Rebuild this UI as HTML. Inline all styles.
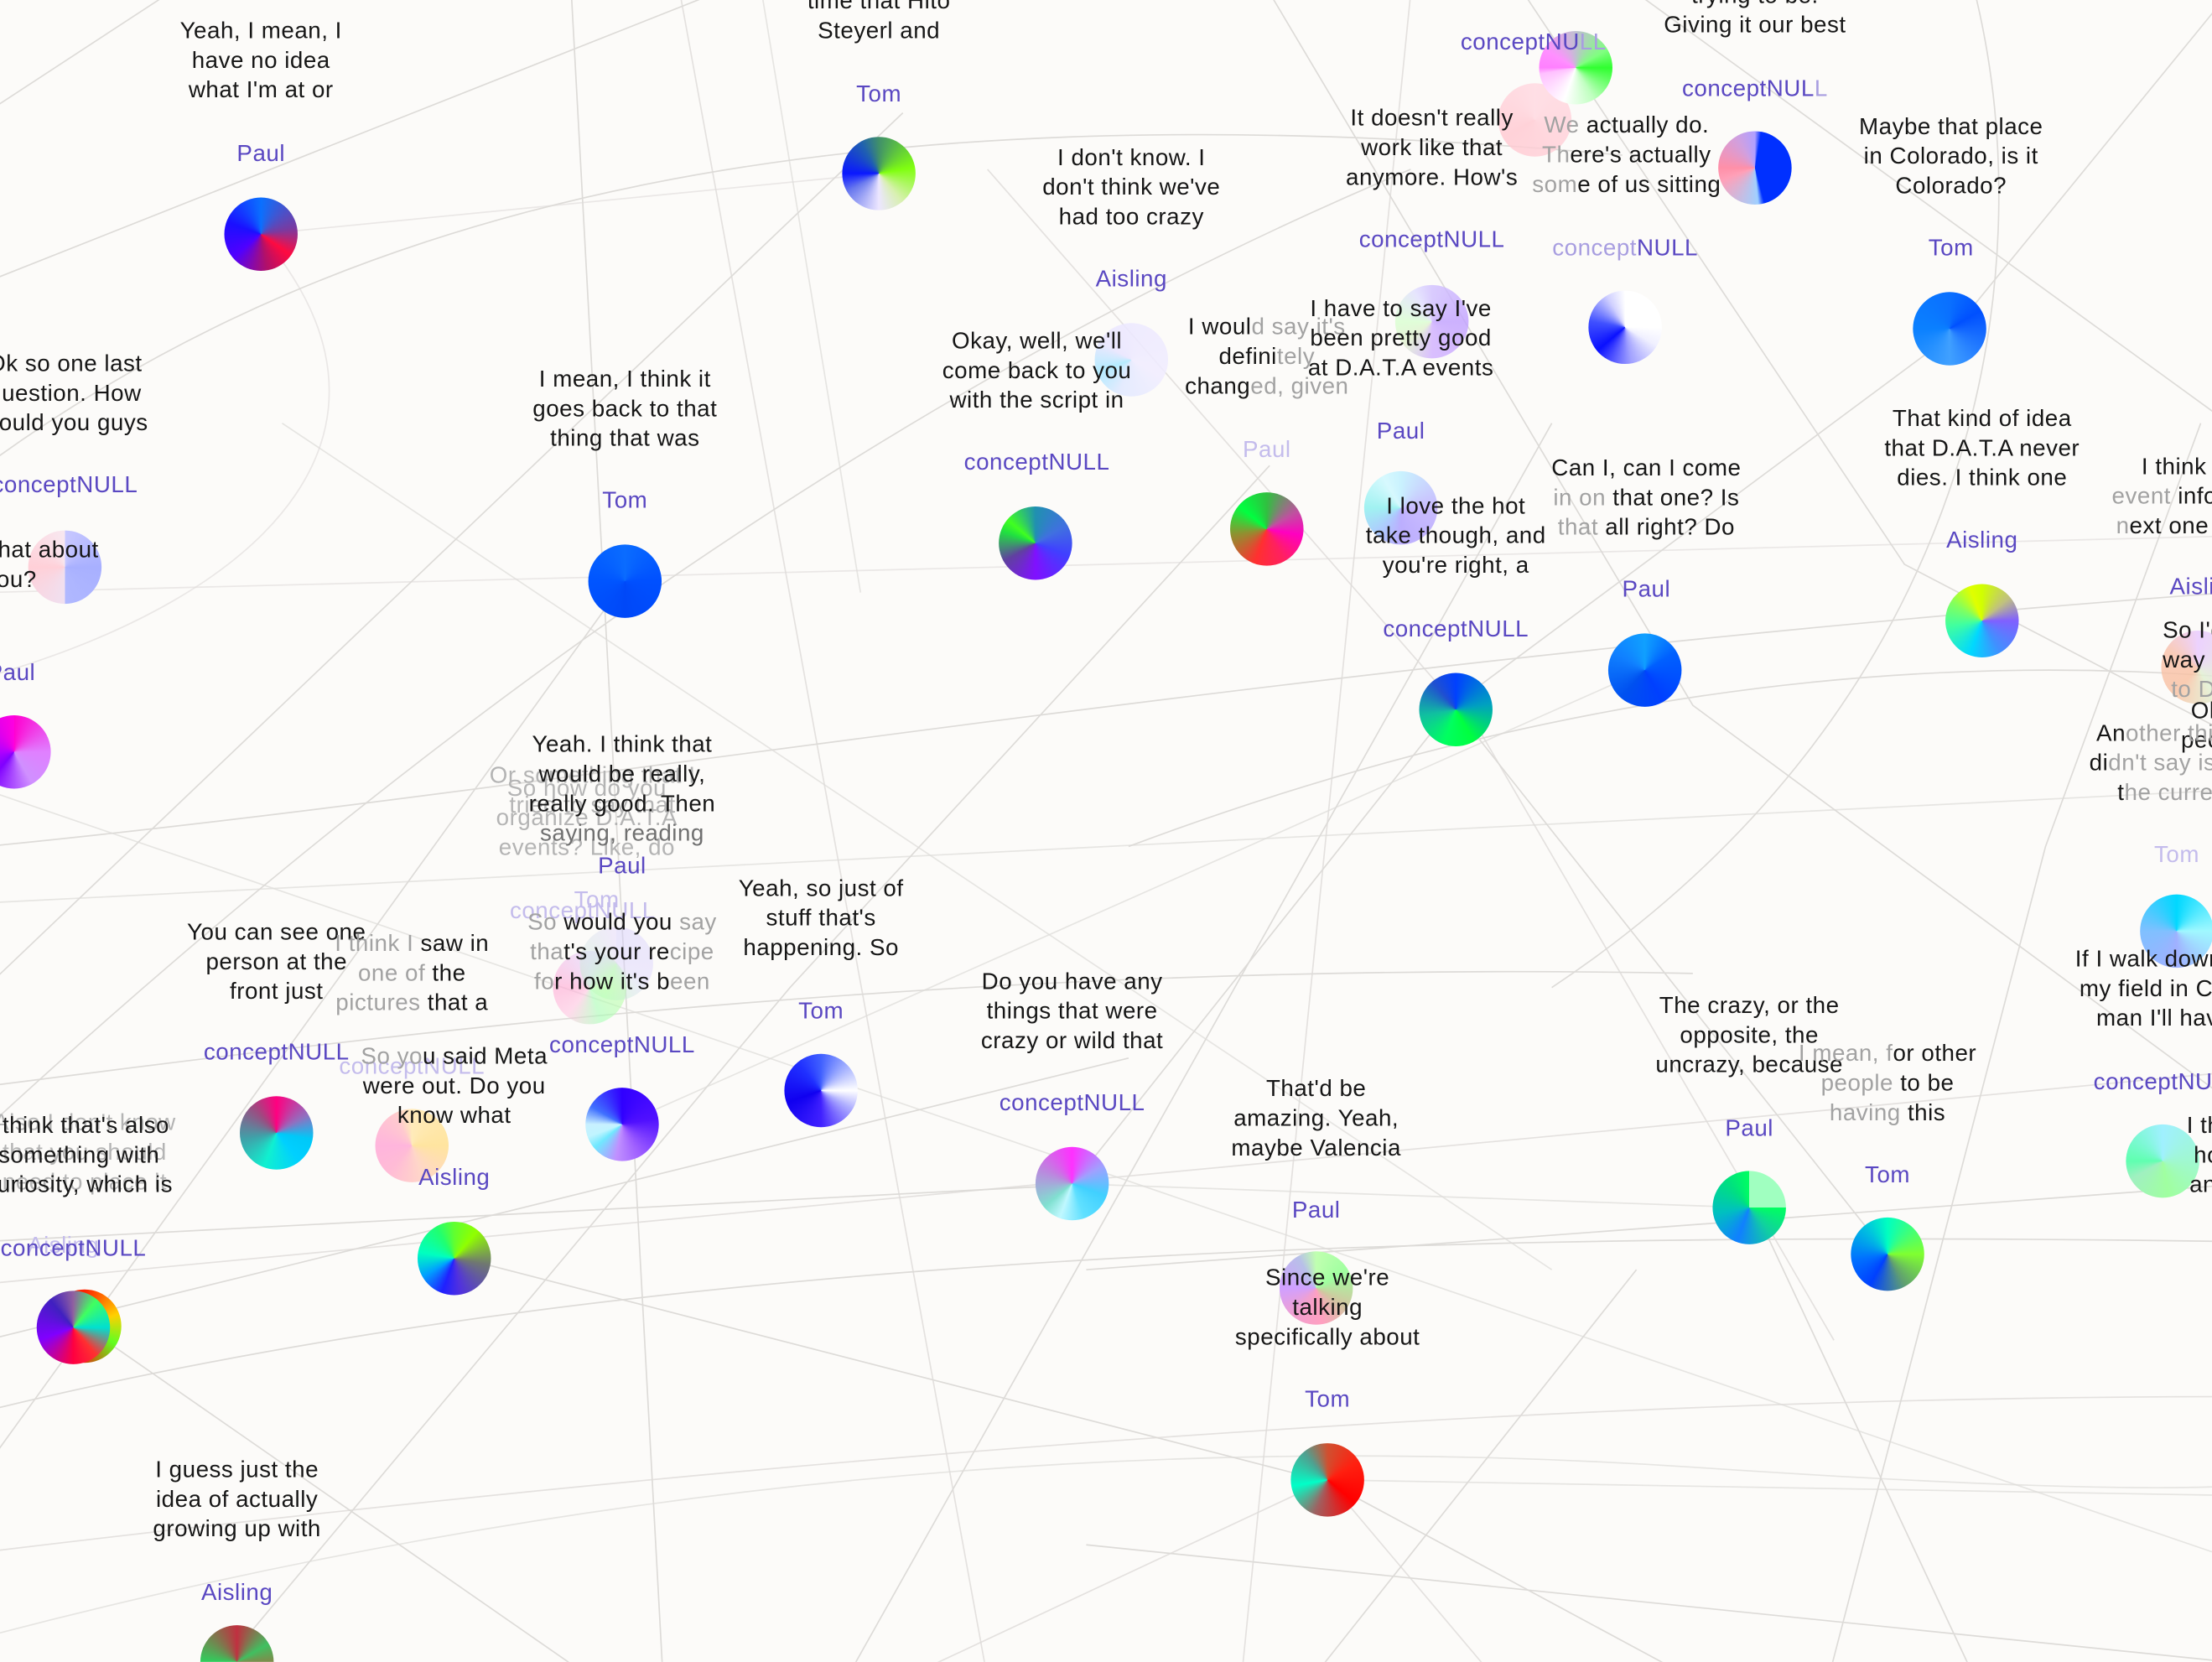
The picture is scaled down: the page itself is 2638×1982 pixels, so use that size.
<!DOCTYPE html>
<html><head><meta charset="utf-8">
<style>
html,body{margin:0;padding:0;width:2638px;height:1982px;overflow:hidden;background:#fcfbf9;}
#s{position:absolute;left:0;top:0;width:1568px;height:1178px;transform:scale(1.68240);transform-origin:0 0;overflow:hidden;}
svg{position:absolute;left:0;top:0;}
.t,.l{position:absolute;width:240px;margin-left:-120px;margin-top:2px;text-align:center;white-space:nowrap;font-family:"Liberation Sans",sans-serif;font-size:16.5px;line-height:21px;letter-spacing:.3px;color:#161616;}
.l{color:#5a48c2;}
.fl{color:#c4bcec;}
.g{color:#a2a2a2;}
.f{color:#b4b4b4;}
.r{position:absolute;margin-top:2px;white-space:nowrap;font-family:"Liberation Sans",sans-serif;font-size:16.5px;line-height:21px;letter-spacing:.3px;color:#161616;}
.c{position:absolute;width:52px;height:52px;margin:-26px 0 0 -26px;border-radius:50%;}
</style></head><body>
<div id="s">
<svg width="1568" height="1178" viewBox="0 0 1568 1178" fill="none" stroke="#dddbd8" stroke-width="1">
<path d="M-10,200 L520,-10"/>
<path d="M-10,330 C250,140 600,60 1150,110"/>
<path d="M405,-5 L470,1190"/>
<path d="M482,-5 L700,1190" opacity=".8"/>
<path d="M-10,700 L640,80"/>
<path d="M-10,800 Q500,330 1000,120"/>
<path d="M-10,600 C400,560 900,470 1580,420"/>
<path d="M-10,640 L1580,560" opacity=".7"/>
<path d="M-10,910 L1580,760" opacity=".8"/>
<path d="M-10,1000 C400,900 900,870 1580,880"/>
<path d="M-10,1100 Q900,990 1580,990" opacity=".8"/>
<path d="M150,1190 L560,700 L900,330"/>
<path d="M-10,1040 L443,412"/>
<path d="M200,300 L1100,900" opacity=".7"/>
<path d="M-10,560 L1568,1100" opacity=".7"/>
<path d="M600,1190 L1100,300"/>
<path d="M930,1190 L1160,900"/>
<path d="M1250,870 L1400,1190"/>
<path d="M1296,1190 L1450,600 L1560,300"/>
<path d="M900,-5 L1200,500 L1580,780"/>
<path d="M1080,-5 L1350,400 L1580,520"/>
<path d="M1580,-5 L1380,240 L1030,500 L760,840"/>
<path d="M700,120 L1050,520 L1300,950" opacity=".8"/>
<path d="M1160,-5 L1580,300"/>
<path d="M1580,480 Q1200,450 800,600"/>
<path d="M770,1095 L1580,1178"/>
<path d="M770,900 L1580,840"/>
<path d="M941,1049 L1580,1060" opacity=".7"/>
<path d="M-10,880 L760,840"/>
<path d="M320,890 L940,1050 L1200,1190"/>
<path d="M-10,950 L800,750"/>
<path d="M540,-5 L610,420" opacity=".7"/>
<path d="M1000,-5 Q950,500 880,1190" opacity=".8"/>
<path d="M1400,-5 C1450,200 1400,500 1100,700"/>
<path d="M-10,420 L1580,380" opacity=".6"/>
<path d="M-10,770 C300,730 700,680 1200,690"/>
<path d="M-10,480 C200,420 300,300 185,166" opacity=".6"/>
<path d="M185,166 L623,123" opacity=".6"/>
<path d="M-10,1160 Q600,1000 1200,1040 T1580,1010" opacity=".7"/>
<path d="M60,940 L420,1190"/>
<path d="M441,797 L1166,475" opacity=".7"/>
<path d="M760,839 L1240,856" opacity=".7"/>
<path d="M1032,503 L1338,889"/>
<path d="M120,-5 L-10,80"/>
<path d="M640,1190 L941,1049 L1060,1190" opacity=".8"/>
</svg>

<!-- circles -->
<div class="c" style="left:185px;top:166px;background:conic-gradient(#0a70ff,#7a3aa0 80deg,#ff0a40 125deg,#b0106a 170deg,#5000ff 230deg,#1a10ff 290deg,#0a70ff)"></div>
<div class="c" style="left:623px;top:123px;background:conic-gradient(#40906a,#80ff10 80deg,#d8f0b0 140deg,#ece6ff 180deg,#6878ee 240deg,#0a18ff 270deg,#2060b0 330deg,#40906a)"></div>
<div class="c" style="left:802px;top:255px;opacity:.85;background:conic-gradient(#ece8ff,#f0ecff 120deg,#e0e8ff 200deg,#a8e8ff 250deg,#e8e4ff 300deg,#ece8ff)"></div>
<div class="c" style="left:734px;top:385px;background:conic-gradient(#2090b0,#4070e0 60deg,#4040ff 110deg,#8010ff 180deg,#6040a0 240deg,#20e040 290deg,#40ff20 310deg,#2090b0)"></div>
<div class="c" style="left:443px;top:412px;background:conic-gradient(#0a6cff,#0050ff 90deg,#0048f8 180deg,#0055ff 270deg,#0a6cff)"></div>
<div class="c" style="left:46px;top:402px;background:conic-gradient(#c8c8ff 0deg,#a8b0ff 90deg,#b0b8ff 180deg,#f0e0f0 180deg,#ffd0d8 270deg,#f8e8f0 360deg)"></div>
<div class="c" style="left:10px;top:533px;background:conic-gradient(#ff00d0,#e080ff 90deg,#d090ff 150deg,#8000ff 220deg,#b000ff 270deg,#ff00e0)"></div>
<div class="c" style="left:196px;top:803px;background:conic-gradient(#ff0080,#9070c0 60deg,#00c8f8 100deg,#00d0ff 140deg,#10f0d0 200deg,#40a0a8 260deg,#a04880 320deg,#ff0080)"></div>
<div class="c" style="left:292px;top:812px;opacity:.85;background:conic-gradient(#ffe8b0,#ffe090 90deg,#ffd0c0 160deg,#ffb0d0 220deg,#ffa8d8 270deg,#ffc0c8 330deg,#ffe8b0)"></div>
<div class="c" style="left:322px;top:892px;background:conic-gradient(#60ff30,#90ff00 40deg,#707870 100deg,#5030e0 170deg,#2020ff 200deg,#00a0ff 240deg,#00ffc0 280deg,#20ff70 330deg,#60ff30)"></div>
<div class="c" style="left:441px;top:797px;background:conic-gradient(#3000ff,#5010ff 80deg,#a060ff 150deg,#c090ff 190deg,#70e8ff 230deg,#c0f4ff 250deg,#c8f0ff 270deg,#4070ff 300deg,#3000ff)"></div>
<div class="c" style="left:418px;top:700px;opacity:.55;background:conic-gradient(#e0d0ff,#c0ffa0 90deg,#a0ffb0 160deg,#ffc0e0 220deg,#ffa0d0 270deg,#e0d0ff)"></div>
<div class="c" style="left:437px;top:683px;opacity:.4;background:conic-gradient(#d0c8ff,#d8d0ff 120deg,#b0ffb0 200deg,#e0d0ff)"></div>
<div class="c" style="left:582px;top:773px;background:conic-gradient(#4060ff,#c0c8ff 60deg,#ffffff 90deg,#b0b0ff 120deg,#4020ff 180deg,#1000f0 250deg,#2030ff 320deg,#4060ff)"></div>
<div class="c" style="left:760px;top:839px;background:conic-gradient(#ff30ff,#a0a0ff 60deg,#40d0ff 110deg,#60e0ff 160deg,#c0f8ff 200deg,#80e0d0 230deg,#c080e0 300deg,#ff30ff)"></div>
<div class="c" style="left:933px;top:913px;background:conic-gradient(#c0ffb0,#a0ffa0 60deg,#d0c8a0 120deg,#ffa0c0 170deg,#f0a0d0 220deg,#d0a0ff 270deg,#b8c0e8 330deg,#c0ffb0)"></div>
<div class="c" style="left:941px;top:1049px;background:conic-gradient(#d05030,#ff2010 60deg,#ff0000 130deg,#a06060 200deg,#00ffc8 260deg,#50a090 320deg,#d05030)"></div>
<div class="c" style="left:168px;top:1178px;background:conic-gradient(#c03040,#40c060 60deg,#ff2020 150deg,#20e060 260deg,#c03040)"></div>
<div class="c" style="left:60px;top:940px;background:conic-gradient(#ff2000,#ffd000 70deg,#60ff20 120deg,#ff0000 200deg,#ff3000 300deg,#ff2000)"></div>
<div class="c" style="left:52px;top:941px;background:conic-gradient(#9060a0,#40ff60 40deg,#00e0d0 90deg,#ff3030 140deg,#ff0040 180deg,#8000ff 250deg,#4020c0 320deg,#9060a0)"></div>
<div class="c" style="left:898px;top:375px;background:conic-gradient(#30c040,#c050a0 60deg,#ff00c0 100deg,#ff2060 150deg,#ff3030 200deg,#909030 260deg,#00ff40 310deg,#30c040)"></div>
<div class="c" style="left:1015px;top:228px;opacity:.8;background:conic-gradient(#d0c0ff,#c0a0ff 90deg,#d0b0ff 180deg,#e0f0d0 230deg,#d8ffd0 270deg,#e0e0ff 330deg,#d0c0ff)"></div>
<div class="c" style="left:993px;top:360px;opacity:.85;background:conic-gradient(#c0f0ff,#c0b0ff 90deg,#b0a0ff 180deg,#a0c0ff 220deg,#90f0f0 270deg,#d0f8ff 330deg,#c0f0ff)"></div>
<div class="c" style="left:1032px;top:503px;background:conic-gradient(#0040ff,#00a0c0 80deg,#00ff40 150deg,#00ff60 200deg,#10c0a0 260deg,#2050d0 320deg,#0040ff)"></div>
<div class="c" style="left:1152px;top:232px;background:conic-gradient(#ffffff,#ffffff 90deg,#f0f0ff 120deg,#a0a0ff 170deg,#0a10ff 230deg,#4050ff 280deg,#d0d0ff 330deg,#ffffff)"></div>
<div class="c" style="left:1088px;top:85px;opacity:.8;background:conic-gradient(#ffd8e0,#ffd0d8 120deg,#ffc8d0 240deg,#ffd8e0)"></div>
<div class="c" style="left:1117px;top:48px;background:conic-gradient(#c0c0d0,#80ff80 60deg,#30ff30 90deg,#c0ffc0 150deg,#ffffff 200deg,#ffc0ff 260deg,#ff80ff 270deg,#ff90ff 300deg,#c0c0d0)"></div>
<div class="c" style="left:1244px;top:119px;background:conic-gradient(#b0a0ff,#0030ff 10deg,#0030ff 165deg,#a0d0ff 175deg,#ffa0b8 250deg,#ff90a8 270deg,#d0a0e0 330deg,#b0a0ff)"></div>
<div class="c" style="left:1382px;top:233px;background:conic-gradient(#0a70ff,#0050ff 60deg,#40a0ff 180deg,#0a80ff 270deg,#0a70ff)"></div>
<div class="c" style="left:1405px;top:440px;background:conic-gradient(#d0ff00,#c0c080 50deg,#8060ff 90deg,#4090ff 150deg,#00d8ff 200deg,#40ffa0 260deg,#80ff60 300deg,#e0ff00 340deg,#d0ff00)"></div>
<div class="c" style="left:1166px;top:475px;background:conic-gradient(#10a0ff,#0060ff 60deg,#0040ff 150deg,#0050f0 220deg,#1080ff 300deg,#10a0ff)"></div>
<div class="c" style="left:1558px;top:473px;opacity:.8;background:conic-gradient(#e8c8ff,#e0f0d0 150deg,#f8c0a0 220deg,#f8c0a8 300deg,#e8c8ff)"></div>
<div class="c" style="left:1543px;top:660px;background:conic-gradient(#00d8ff,#a0f8ff 90deg,#a0b0ff 180deg,#80c0ff 270deg,#00d8ff)"></div>
<div class="c" style="left:1533px;top:823px;background:conic-gradient(#a0f0ff,#a0f8d0 90deg,#a0ffa0 170deg,#a0f0c0 240deg,#60ffb0 270deg,#a0f0ff)"></div>
<div class="c" style="left:1240px;top:856px;background:conic-gradient(#a0ffc0 0deg,#a0ffc0 90deg,#00ff60 90deg,#10d0a0 140deg,#1080ff 200deg,#00c0c0 260deg,#00e080 320deg,#00ff60)"></div>
<div class="c" style="left:1338px;top:889px;background:conic-gradient(#00ffc0,#80ff30 90deg,#60a070 150deg,#0040ff 210deg,#0070ff 260deg,#00c0e0 320deg,#00ffc0)"></div>

<!-- text blocks -->
<div class="t" style="left:185px;top:10px">Yeah, I mean, I<br>have no idea<br>what I'm at or</div>
<div class="l" style="left:185px;top:97px">Paul</div>

<div class="t" style="left:623px;top:-11px">time that Hito<br>Steyerl and</div>
<div class="l" style="left:623px;top:55px">Tom</div>

<div class="t" style="left:802px;top:100px">I don't know. I<br>don't think we've<br>had too crazy</div>
<div class="l" style="left:802px;top:186px">Aisling</div>

<div class="t" style="left:735px;top:230px">Okay, well, we'll<br>come back to you<br>with the script in</div>
<div class="l" style="left:735px;top:316px">conceptNULL</div>

<div class="t" style="left:443px;top:257px">I mean, I think it<br>goes back to that<br>thing that was</div>
<div class="l" style="left:443px;top:343px">Tom</div>

<div class="t" style="left:46px;top:246px">Ok so one last<br>question. How<br>would you guys</div>
<div class="l" style="left:46px;top:332px">conceptNULL</div>

<div class="r" style="right:1498px;top:378px">What about</div>
<div class="r" style="right:1542px;top:399px">you?</div>
<div class="l" style="left:8px;top:465px">Paul</div>

<div class="t f" style="left:420px;top:538px">Or something that I<br>tried to say that<br>&nbsp;</div>
<div class="t f" style="left:416px;top:547px">So how do you<br>organize D.A.T.A<br>events? Like, do</div>
<div class="t" style="left:441px;top:516px">Yeah. I think that<br>would be really,<br>really good. Then<br><span style="color:#707070">saying, reading</span></div>
<div class="l" style="left:441px;top:602px">Paul</div>
<div class="l fl" style="left:423px;top:626px">Tom</div>
<div class="l fl" style="left:413px;top:634px">conceptNULL</div>

<div class="t" style="left:196px;top:649px">You can see one<br>person at the<br>front just</div>
<div class="l" style="left:196px;top:734px">conceptNULL</div>

<div class="t" style="left:292px;top:657px"><span class="g">I think I</span> saw in<br><span class="g">one of</span> the<br><span class="g">pictures</span> that a</div>
<div class="l fl" style="left:292px;top:744px">conceptNULL</div>

<div class="t" style="left:322px;top:737px"><span class="g">So yo</span>u said Meta<br>were out. Do you<br>know what</div>
<div class="l" style="left:322px;top:823px">Aisling</div>

<div class="t" style="left:441px;top:642px"><span class="g">So</span> would you <span class="g">say</span><br><span class="g">tha</span>t's your re<span class="g">cipe</span><br><span class="g">fo</span>r how it's b<span class="g">een</span></div>
<div class="l" style="left:441px;top:729px">conceptNULL</div>

<div class="t" style="left:582px;top:618px">Yeah, so just of<br>stuff that's<br>happening. So</div>
<div class="l" style="left:582px;top:705px">Tom</div>

<div class="t" style="left:760px;top:684px">Do you have any<br>things that were<br>crazy or wild that</div>
<div class="l" style="left:760px;top:770px">conceptNULL</div>

<div class="t" style="left:933px;top:760px">That'd be<br>amazing. Yeah,<br>maybe Valencia</div>
<div class="l" style="left:933px;top:846px">Paul</div>

<div class="t" style="left:941px;top:894px">Since we're<br>talking<br>specifically about</div>
<div class="l" style="left:941px;top:980px">Tom</div>

<div class="t" style="left:168px;top:1030px">I guess just the<br>idea of actually<br>growing up with</div>
<div class="l" style="left:168px;top:1117px">Aisling</div>

<div class="t f" style="left:60px;top:784px">Also I don't know<br>that you should<br>need to place it</div>
<div class="t" style="left:56px;top:786px">I think that's also<br>something with<br>curiosity, which is</div>
<div class="l fl" style="left:45px;top:871px">Aisling</div>
<div class="l" style="left:52px;top:873px">conceptNULL</div>

<div class="t" style="left:898px;top:220px">I woul<span class="g">d say it's</span><br>defini<span class="g">tely</span><br>chang<span class="g">ed, given</span></div>
<div class="l fl" style="left:898px;top:307px">Paul</div>

<div class="t" style="left:993px;top:207px">I have to say I've<br>been pretty good<br>at D.A.T.A events</div>
<div class="l" style="left:993px;top:294px">Paul</div>

<div class="t" style="left:1032px;top:347px">I love the hot<br>take though, and<br>you're right, a</div>
<div class="l" style="left:1032px;top:434px">conceptNULL</div>

<div class="t" style="left:1015px;top:72px">It doesn't really<br>work like that<br>anymore. How's</div>
<div class="l" style="left:1015px;top:158px">conceptNULL</div>

<div class="t" style="left:1153px;top:77px"><span class="g">We</span> actually do.<br><span class="g">Th</span>ere's actually<br><span class="g">som</span>e of us sitting</div>
<div class="l" style="left:1152px;top:164px"><span style="color:#a89ee0">concept</span>NULL</div>

<div class="t" style="left:1244px;top:-15px">trying to be.<br>Giving it our best</div>
<div class="l" style="left:1244px;top:51px">conceptNUL<span style="color:#a89ee0">L</span></div>
<div class="l" style="left:1087px;top:18px">conceptNU<span style="color:#a89ee0">LL</span></div>

<div class="t" style="left:1383px;top:78px">Maybe that place<br>in Colorado, is it<br>Colorado?</div>
<div class="l" style="left:1383px;top:164px">Tom</div>

<div class="t" style="left:1405px;top:285px">That kind of idea<br>that D.A.T.A never<br>dies. I think one</div>
<div class="l" style="left:1405px;top:371px">Aisling</div>

<div class="t" style="left:1167px;top:320px">Can I, can I come<br><span class="g">in on</span> that one? Is<br><span class="g">that</span> all right? Do</div>
<div class="l" style="left:1167px;top:406px">Paul</div>

<div class="r" style="left:1518px;top:319px">I think the</div>
<div class="r" style="left:1497px;top:340px"><span class="g">event</span> information</div>
<div class="r" style="left:1500px;top:361px"><span class="g">n</span>ext one is</div>
<div class="r" style="left:1538px;top:404px;color:#5a48c2">Aisling</div>
<div class="r" style="left:1533px;top:435px">So I'd</div>
<div class="r" style="left:1533px;top:456px">way</div>
<div class="r" style="left:1539px;top:477px;color:#a2a2a2">to D.A.T.A</div>
<div class="r" style="left:1553px;top:492px">Ok</div>
<div class="r" style="left:1546px;top:513px">people</div>
<div class="r" style="left:1486px;top:508px">An<span class="g">other thing</span></div>
<div class="r" style="left:1481px;top:529px">di<span class="g">dn't say is</span></div>
<div class="r" style="left:1501px;top:550px">t<span class="g">he current</span></div>
<div class="r" style="left:1527px;top:594px;color:#c4bcec">Tom</div>
<div class="r" style="left:1471px;top:668px">If I walk down</div>
<div class="r" style="left:1474px;top:689px">my field in Chi</div>
<div class="r" style="left:1486px;top:710px">man I'll have</div>
<div class="r" style="left:1484px;top:755px;color:#5a48c2">conceptNULL</div>
<div class="r" style="left:1550px;top:786px">I think</div>
<div class="r" style="left:1555px;top:807px">how</div>
<div class="r" style="left:1552px;top:828px">and</div>

<div class="t" style="left:1240px;top:701px">The crazy, or the<br>opposite, the<br>uncrazy, because</div>
<div class="l" style="left:1240px;top:788px">Paul</div>

<div class="t" style="left:1338px;top:735px"><span class="g">I mean, f</span>or other<br><span class="g">people</span> to be<br><span class="g">having</span> this</div>
<div class="l" style="left:1338px;top:821px">Tom</div>
</div>
</body></html>
